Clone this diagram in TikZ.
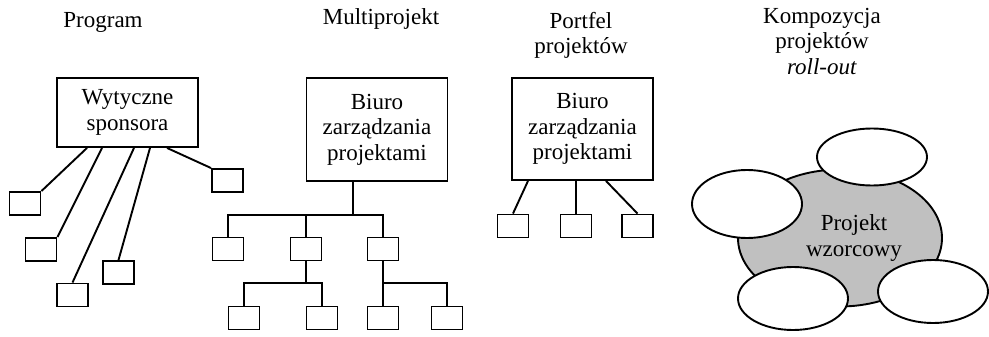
\documentclass[tikz,border=0pt]{standalone}
\usepackage{fontspec}
\setmainfont{Liberation Serif}
\usetikzlibrary{shapes.geometric}
\definecolor{modelgray}{RGB}{192,192,192}

\begin{document}
\begin{tikzpicture}[x=1pt,y=-1pt,line width=1.9pt,
    every node/.style={font=\fontsize{23}{25.5}\selectfont}]
    \tikzstyle{title}=[anchor=north,align=center,inner sep=0pt]
    \tikzstyle{office}=[draw,align=center,minimum width=141pt,inner sep=0pt]
    \tikzstyle{project}=[draw,minimum width=31pt,minimum height=23pt,inner sep=0pt]
    \tikzstyle{satellite}=[draw,ellipse,fill=white,minimum width=110pt,inner sep=0pt]
    \tikzstyle{model}=[draw,ellipse,fill=modelgray,minimum width=204pt,
        minimum height=137pt,inner sep=0pt]

    \useasboundingbox (0,0) rectangle (989,337);

    % Titles of the four variants
    \node[title] (tprog) at (103,11) {Program};
    \node[title] (tmulti) at (381,8) {Multiprojekt};
    \node[title] (tport) at (581,11) {Portfel\\projektów};
    \node[title] (tcomp) at (822,7) {Kompozycja\\projektów\\\textit{roll-out}};

    % Program: sponsor with loose projects
    \node[office,minimum height=69pt] (ws) at (127.5,112.5) {Wytyczne\\sponsora};
    \node[project] (p1) at (25,203.5) {};
    \node[project] (p2) at (41,249.5) {};
    \node[project] (p3) at (72.5,295) {};
    \node[project] (p4) at (118.5,272.5) {};
    \node[project] (p5) at (227.5,180.5) {};
    \draw ([xshift=-40.5pt]ws.south) -- (p1.north east);
    \draw ([xshift=-25.5pt]ws.south) -- (p2.north east);
    \draw ([xshift=6.5pt]ws.south) -- (p3.north);
    \draw ([xshift=22.5pt]ws.south) -- (p4.north);
    \draw ([xshift=39.5pt]ws.south) -- (p5.north west);

    % Multiprojekt: office over a tree of projects
    \node[office,minimum height=103pt] (bm) at (377,129.5) {Biuro\\zarządzania\\projektami};
    \foreach \name / \x in {1/228,2/306,3/383}
        \node[project] (m\name) at (\x,249) {};
    \foreach \name / \x in {21/244,22/322,31/383,32/447}
        \node[project] (m\name) at (\x,318) {};
    \coordinate (mbus) at (353,215);
    \coordinate (m2fork) at (306,283);
    \coordinate (m3fork) at (383,283);
    \draw ([xshift=-24pt]bm.south) -- (mbus);
    \draw (m1.north) |- (mbus) -| (m3.north);
    \draw (m2.north) -- (m2.north |- mbus);
    \draw (m2.south) -- (m2fork);
    \draw (m21.north) |- (m2fork) -| (m22.north);
    \draw (m3.south) -- (m31.north);
    \draw (m3fork) -| (m32.north);

    % Portfel: office with three projects
    \node[office,minimum height=102pt] (bp) at (582.5,129) {Biuro\\zarządzania\\projektami};
    \foreach \name / \x in {1/513,2/576,3/637.5}
        \node[project] (q\name) at (\x,226) {};
    \draw ([xshift=-54.5pt]bp.south) -- (q1.north);
    \draw ([xshift=-6.5pt]bp.south) -- (q2.north);
    \draw ([xshift=23.5pt]bp.south) -- (q3.north);

    % Kompozycja: model project with roll-out copies
    \node[model,label={[align=center,xshift=14pt]center:Projekt\\wzorcowy}] (pw) at (840,238) {};
    \node[satellite,minimum height=57pt] (r1) at (872,157) {};
    \node[satellite,minimum height=68pt] (r2) at (747,204) {};
    \node[satellite,minimum height=63pt] (r3) at (793,298.5) {};
    \node[satellite,minimum height=63pt] (r4) at (933,291.5) {};
\end{tikzpicture}
\end{document}
